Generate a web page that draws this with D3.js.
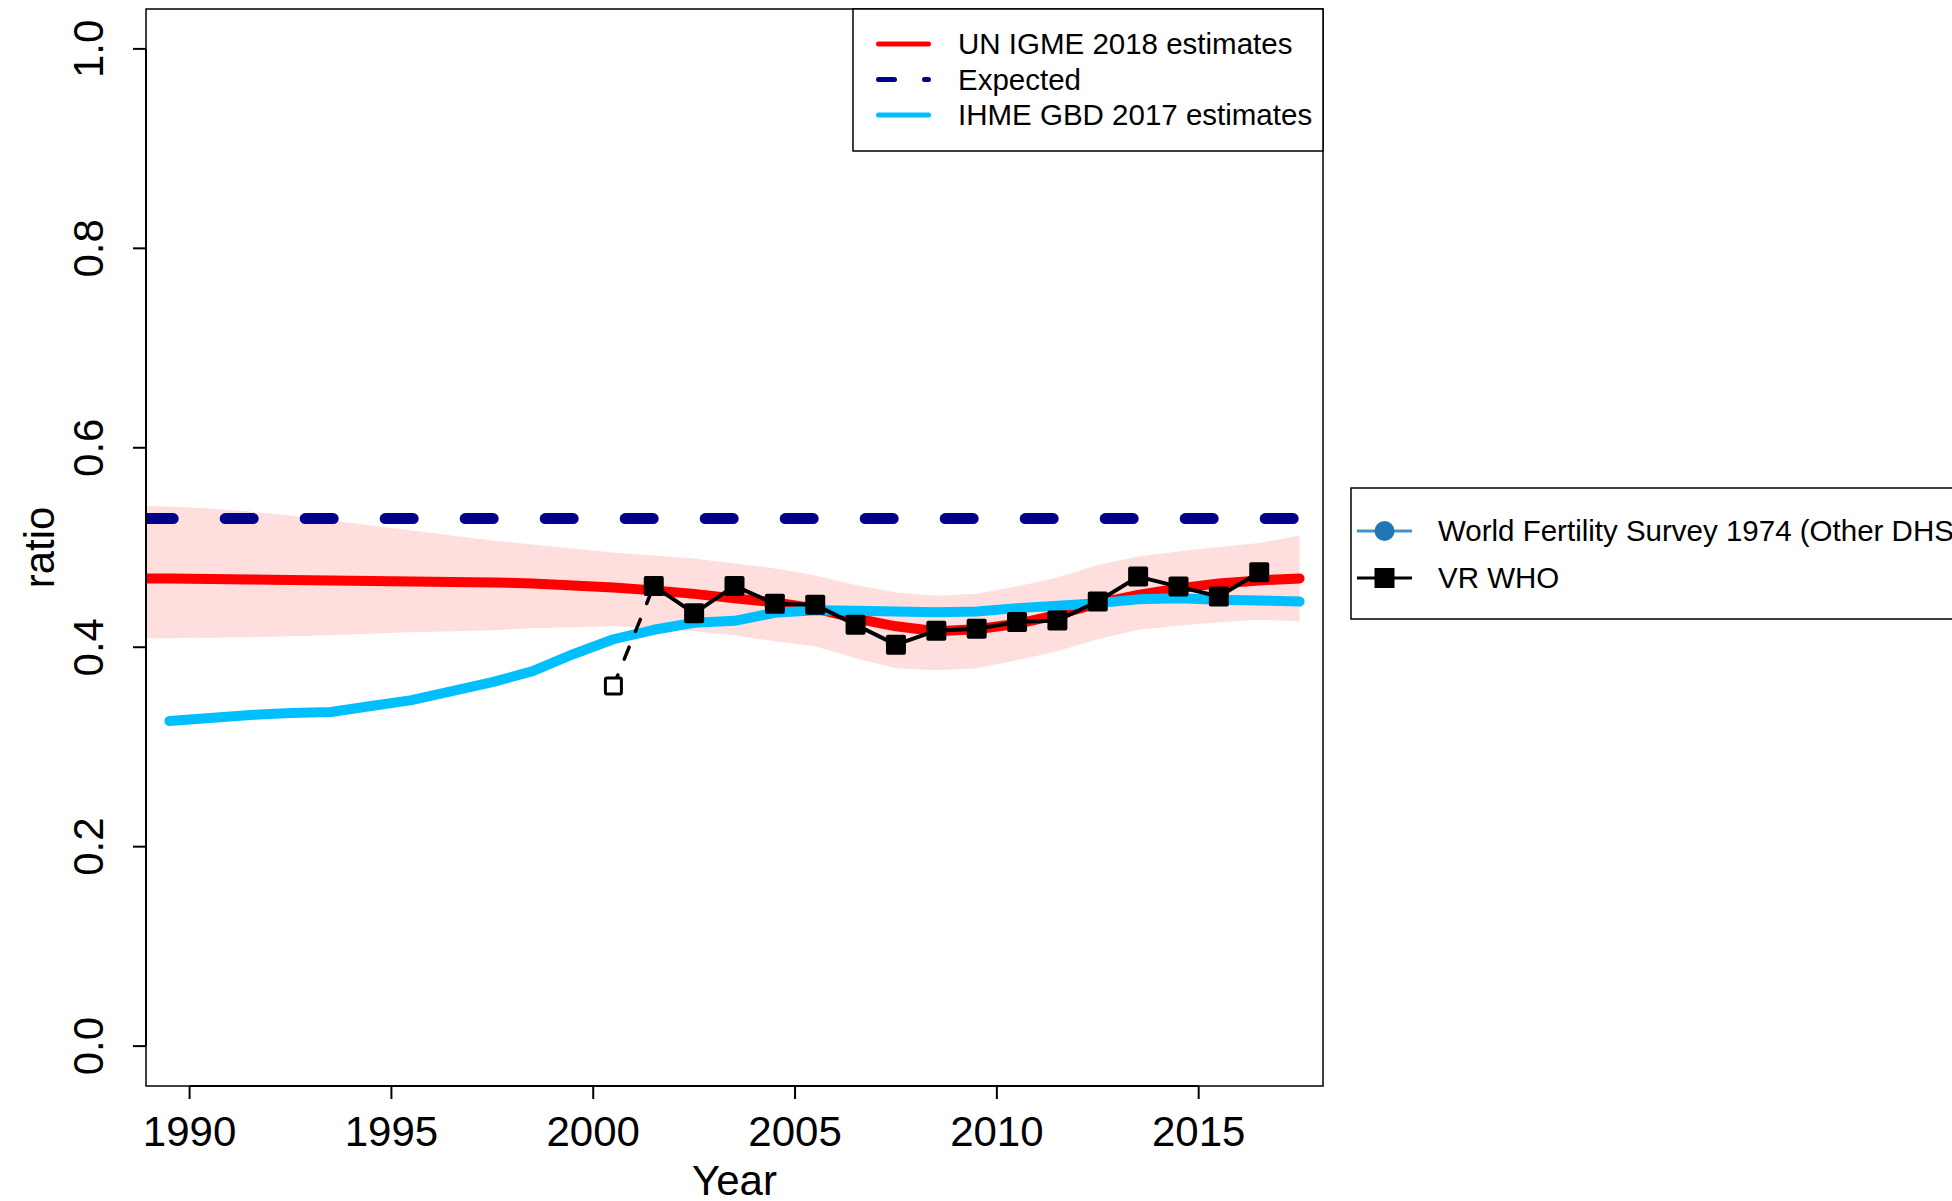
<!DOCTYPE html>
<html>
<head>
<meta charset="utf-8">
<script src="https://cdn.jsdelivr.net/npm/d3@7"></script>
<style>
  html, body { margin: 0; padding: 0; background: #fff; }
  svg { display: block; font-family: "Liberation Sans", Arial, Helvetica, sans-serif; }
</style>
</head>
<body>
<div id="chart"></div>
<script>
// ---- data ----
const estYears = [1988.5, 1989.5, 1990.5, 1991.5, 1992.5, 1993.5, 1994.5, 1995.5, 1996.5, 1997.5,
  1998.5, 1999.5, 2000.5, 2001.5, 2002.5, 2003.5, 2004.5, 2005.5, 2006.5, 2007.5,
  2008.5, 2009.5, 2010.5, 2011.5, 2012.5, 2013.5, 2014.5, 2015.5, 2016.5, 2017.5];
const igme = [0.469, 0.469, 0.4685, 0.468, 0.4675, 0.467, 0.4665, 0.466, 0.4655, 0.465,
  0.464, 0.462, 0.460, 0.457, 0.4535, 0.449, 0.445, 0.439, 0.429, 0.421,
  0.416, 0.418, 0.4235, 0.4325, 0.444, 0.4525, 0.459, 0.464, 0.467, 0.469];
const igmeUpper = [0.542, 0.541, 0.539, 0.536, 0.532, 0.527, 0.522, 0.517, 0.512, 0.507,
  0.503, 0.499, 0.495, 0.492, 0.489, 0.484, 0.479, 0.472, 0.4625, 0.455,
  0.4515, 0.4535, 0.461, 0.470, 0.4825, 0.491, 0.496, 0.5005, 0.5045, 0.512];
const igmeLower = [0.409, 0.409, 0.4095, 0.410, 0.411, 0.412, 0.4135, 0.415, 0.416, 0.417,
  0.419, 0.420, 0.421, 0.419, 0.416, 0.412, 0.406, 0.401, 0.389, 0.379,
  0.377, 0.379, 0.387, 0.396, 0.408, 0.4175, 0.4215, 0.425, 0.4275, 0.426];

const ihmeYears = estYears.slice(1);
const ihme = [0.326, 0.329, 0.332, 0.334, 0.335, 0.341, 0.347, 0.356, 0.365,
  0.376, 0.393, 0.408, 0.4175, 0.4245, 0.4265, 0.4345, 0.437, 0.4365, 0.4358,
  0.435, 0.4358, 0.4392, 0.4415, 0.4442, 0.448, 0.449, 0.4475, 0.4468, 0.4458];

const expectedYears = [1988.9, 2017.5];
const expectedValue = 0.529;

const vrYears = [2001.5, 2002.5, 2003.5, 2004.5, 2005.5, 2006.5, 2007.5, 2008.5,
  2009.5, 2010.5, 2011.5, 2012.5, 2013.5, 2014.5, 2015.5, 2016.5];
const vrValues = [0.4615, 0.434, 0.4615, 0.4435, 0.4425, 0.4225, 0.4026, 0.4166,
  0.4186, 0.4252, 0.4269, 0.4458, 0.4708, 0.4608, 0.4508, 0.4751];
// excluded VR point (open square), joined with a dashed line
const vrExcludedYear = 2000.5;
const vrExcludedValue = 0.361;

const xTicks = [1990, 1995, 2000, 2005, 2010, 2015];
const yTicks = [0, 0.2, 0.4, 0.6, 0.8, 1.0];

const legendTop = [
  { label: 'UN IGME 2018 estimates', color: '#FF0000', dash: null },
  { label: 'Expected', color: '#00008B', dash: '16 30' },
  { label: 'IHME GBD 2017 estimates', color: '#00BFFF', dash: null }
];
const legendSide = [
  { label: 'World Fertility Survey 1974 (Other DHS)', line: '#4A90C8', fill: '#1F77B4', shape: 'circle' },
  { label: 'VR WHO', line: '#000000', fill: '#000000', shape: 'square' }
];

// ---- layout ----
const W = 1952, H = 1201;
const plot = { left: 146, right: 1323, top: 9, bottom: 1086 };

// R style: limits expanded by 4%
const xs = d3.scaleLinear().domain([1990 - 27 * 0.04, 2017 + 27 * 0.04]).range([plot.left, plot.right]);
const ys = d3.scaleLinear().domain([-0.04, 1.04]).range([plot.bottom, plot.top]);

const svg = d3.select('#chart').append('svg')
  .attr('width', W).attr('height', H);

svg.append('defs').append('clipPath').attr('id', 'clip')
  .append('rect')
  .attr('x', plot.left).attr('y', plot.top)
  .attr('width', plot.right - plot.left).attr('height', plot.bottom - plot.top);

const g = svg.append('g').attr('clip-path', 'url(#clip)');

// uncertainty band
const band = d3.area()
  .x((d, i) => xs(estYears[i]))
  .y0((d, i) => ys(igmeLower[i]))
  .y1((d, i) => ys(igmeUpper[i]));
g.append('path').datum(estYears).attr('d', band).attr('fill', 'rgba(255,0,0,0.13)');

const line = d3.line().x(d => xs(d[0])).y(d => ys(d[1]));

// UN IGME estimates
g.append('path').datum(estYears.map((y, i) => [y, igme[i]]))
  .attr('d', line).attr('fill', 'none').attr('stroke', '#FF0000')
  .attr('stroke-width', 10).attr('stroke-linejoin', 'round').attr('stroke-linecap', 'round');

// IHME estimates
g.append('path').datum(ihmeYears.map((y, i) => [y, ihme[i]]))
  .attr('d', line).attr('fill', 'none').attr('stroke', '#00BFFF')
  .attr('stroke-width', 10).attr('stroke-linejoin', 'round').attr('stroke-linecap', 'round');

// Expected
g.append('path').datum(expectedYears.map(y => [y, expectedValue]))
  .attr('d', line).attr('fill', 'none').attr('stroke', '#00008B')
  .attr('stroke-width', 11).attr('stroke-dasharray', '28 52').attr('stroke-linecap', 'round');

// VR WHO: dashed link to the excluded point
g.append('path').datum([[vrYears[0], vrValues[0]], [vrExcludedYear, vrExcludedValue]])
  .attr('d', line).attr('fill', 'none').attr('stroke', '#000')
  .attr('stroke-width', 3.5).attr('stroke-dasharray', '13 17').attr('stroke-dashoffset', -6)
  .attr('stroke-linecap', 'round');

g.append('path').datum(vrYears.map((y, i) => [y, vrValues[i]]))
  .attr('d', line).attr('fill', 'none').attr('stroke', '#000')
  .attr('stroke-width', 4).attr('stroke-linejoin', 'round');

const sq = 20;
g.selectAll('rect.vr').data(vrYears).join('rect')
  .attr('class', 'vr')
  .attr('x', (d) => xs(d) - sq / 2)
  .attr('y', (d, i) => ys(vrValues[i]) - sq / 2)
  .attr('width', sq).attr('height', sq)
  .attr('rx', 2)
  .attr('fill', '#000');

g.append('rect')
  .attr('x', xs(vrExcludedYear) - 8).attr('y', ys(vrExcludedValue) - 8)
  .attr('width', 16).attr('height', 16)
  .attr('rx', 1.5)
  .attr('fill', '#fff').attr('stroke', '#000').attr('stroke-width', 3);

// ---- frame and axes ----
svg.append('rect')
  .attr('x', plot.left).attr('y', plot.top)
  .attr('width', plot.right - plot.left).attr('height', plot.bottom - plot.top)
  .attr('fill', 'none').attr('stroke', '#000').attr('stroke-width', 1.5);

const tickLen = 13;
const ax = svg.append('g').attr('stroke', '#000').attr('stroke-width', 2);
ax.append('line')
  .attr('x1', xs(xTicks[0])).attr('x2', xs(xTicks[xTicks.length - 1]))
  .attr('y1', plot.bottom).attr('y2', plot.bottom);
ax.selectAll('line.xt').data(xTicks).join('line').attr('class', 'xt')
  .attr('x1', d => xs(d)).attr('x2', d => xs(d))
  .attr('y1', plot.bottom).attr('y2', plot.bottom + tickLen);
ax.append('line')
  .attr('y1', ys(yTicks[0])).attr('y2', ys(yTicks[yTicks.length - 1]))
  .attr('x1', plot.left).attr('x2', plot.left);
ax.selectAll('line.yt').data(yTicks).join('line').attr('class', 'yt')
  .attr('y1', d => ys(d)).attr('y2', d => ys(d))
  .attr('x1', plot.left).attr('x2', plot.left - tickLen);

svg.selectAll('text.xl').data(xTicks).join('text').attr('class', 'xl')
  .attr('x', d => xs(d)).attr('y', 1146)
  .attr('text-anchor', 'middle').attr('font-size', 42)
  .text(d => d);

svg.selectAll('text.yl').data(yTicks).join('text').attr('class', 'yl')
  .attr('transform', d => `translate(103,${ys(d)}) rotate(-90)`)
  .attr('text-anchor', 'middle').attr('font-size', 42)
  .text(d => d3.format('.1f')(d));

svg.append('text')
  .attr('x', (plot.left + plot.right) / 2).attr('y', 1195)
  .attr('text-anchor', 'middle').attr('font-size', 42)
  .text('Year');

svg.append('text')
  .attr('transform', `translate(54,${(plot.top + plot.bottom) / 2}) rotate(-90)`)
  .attr('text-anchor', 'middle').attr('font-size', 42)
  .text('ratio');

// ---- legend inside the plot ----
const lg1 = svg.append('g');
lg1.append('rect')
  .attr('x', 853).attr('y', plot.top).attr('width', plot.right - 853).attr('height', 142)
  .attr('fill', '#fff').attr('stroke', '#000').attr('stroke-width', 1.5);
legendTop.forEach((d, i) => {
  const cy = 44 + i * 35.5;
  lg1.append('line')
    .attr('x1', 878.5).attr('x2', 928.5).attr('y1', cy).attr('y2', cy)
    .attr('stroke', d.color).attr('stroke-width', 5).attr('stroke-linecap', 'round')
    .attr('stroke-dasharray', d.dash);
  lg1.append('text')
    .attr('x', 958).attr('y', cy).attr('dy', '0.35em')
    .attr('font-size', 29.5).text(d.label);
});

// ---- legend outside, right ----
const lg2 = svg.append('g');
lg2.append('rect')
  .attr('x', 1351).attr('y', 488).attr('width', 700).attr('height', 131)
  .attr('fill', '#fff').attr('stroke', '#000').attr('stroke-width', 1.5);
legendSide.forEach((d, i) => {
  const cy = 531 + i * 47;
  lg2.append('line')
    .attr('x1', 1357).attr('x2', 1412).attr('y1', cy).attr('y2', cy)
    .attr('stroke', d.line).attr('stroke-width', 3);
  if (d.shape === 'circle') {
    lg2.append('circle').attr('cx', 1384.5).attr('cy', cy).attr('r', 10).attr('fill', d.fill);
  } else {
    lg2.append('rect').attr('x', 1374.5).attr('y', cy - 10).attr('width', 20).attr('height', 20).attr('fill', d.fill);
  }
  lg2.append('text')
    .attr('x', 1438).attr('y', cy).attr('dy', '0.35em')
    .attr('font-size', 29.5).text(d.label);
});
</script>
</body>
</html>
